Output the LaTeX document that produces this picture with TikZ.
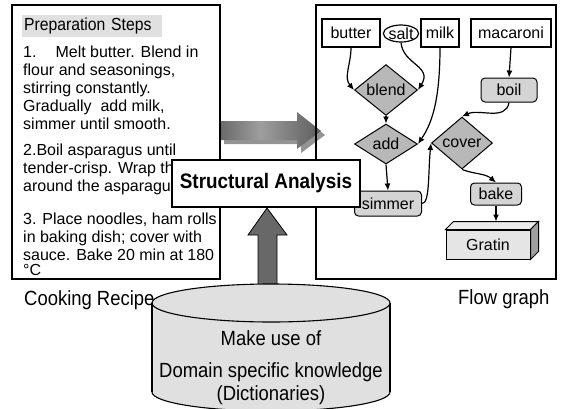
\documentclass[tikz,border=0pt]{standalone}
\usepackage{fontspec}
\setmainfont{Liberation Sans}
\newfontfamily\narrowsf[FakeStretch=0.9]{Liberation Sans}
\usetikzlibrary{shapes.geometric,arrows.meta}
\definecolor{dgray}{RGB}{104,104,104}
\pgfdeclarehorizontalshading{barshade}{100bp}{color(0bp)=(black!85); color(45bp)=(black!38); color(100bp)=(black!85)}
\tikzset{
  frame/.style={draw,line width=1.1pt,minimum width=#1,minimum height=274,inner sep=0pt},
  txt/.style={anchor=north west,inner sep=0pt,align=left,font=\fontsize{16}{18}\selectfont},
  prep/.style={fill=black!12,minimum width=140,minimum height=22,inner xsep=2pt,text width=136,align=left,font=\narrowsf\fontsize{17.5}{20}\selectfont},
  lbl/.style={inner sep=0pt,font=\narrowsf\fontsize{20.5}{24}\selectfont},
  sabox/.style={draw,line width=2.6pt,fill=white,minimum width=188,minimum height=47,font=\narrowsf\bfseries\fontsize{21}{24}\selectfont},
  ing/.style={draw,line width=1.2pt,fill=white,minimum height=28,inner sep=1pt},
  ingo/.style={ellipse,draw,line width=1.2pt,fill=white,minimum width=34,minimum height=17,inner sep=0pt},
  act/.style={diamond,draw,line width=1pt,fill=black!28,inner sep=0pt},
  stp/.style={draw,line width=1pt,rounded corners=4pt,fill=black!17,inner sep=1pt},
  fl/.style={-{Latex[length=7pt,width=6pt]},line width=1.2pt},
}
\begin{document}
\begin{tikzpicture}[x=1pt,y=-1pt,every node/.style={font=\fontsize{16}{19}\selectfont}]
\useasboundingbox (0,0) rectangle (566,408);
% shaded arrow recipe -> graph
\fill[black!42] (224,125) -- (301,125) -- (301,116) -- (325,135) -- (301,153) -- (301,144) -- (224,144) -- cycle;
\shade[shading=barshade] (220,121) -- (297,121) -- (297,112) -- (321,131) -- (297,149) -- (297,140) -- (220,140) -- cycle;
% the two frames
\node[frame=208] (recipe) at (116,142) {};
\node[frame=240] (graph) at (436,142) {};
% recipe text
\node[prep] (title) at (92,26) {Preparation Steps};
\node[txt] (st1) at (23,46) {1.\hspace{19pt}Melt butter. Blend in\\flour and seasonings,\\stirring constantly.\\Gradually\ \ add milk,\\simmer until smooth.};
\node[txt] (st2) at (23,144) {2.Boil asparagus until\\tender-crisp. Wrap th\\around the asparagu};
\node[txt] (st3) at (23,213) {3. Place noodles, ham rolls\\in baking dish; cover with\\sauce. Bake 20 min at 180};
\node[txt] (deg) at (23,264) {°C};
% flow graph
\node[ing,minimum width=58] (butter) at (351,33) {butter};
\node[ingo] (salt) at (401,33.5) {salt};
\node[ing,minimum width=38] (milk) at (440,33) {milk};
\node[ing,minimum width=80] (macaroni) at (511,33) {macaroni};
\node[act,minimum width=63,minimum height=46] (blend) at (386,90) {blend};
\node[act,minimum width=63,minimum height=40] (add) at (386,144) {add};
\node[act,minimum width=61,minimum height=52] (cover) at (462,143) {cover};
\node[stp,minimum width=56,minimum height=24] (boil) at (509,90) {boil};
\node[stp,minimum width=67,minimum height=25] (simmer) at (388,203.5) {simmer};
\node[stp,minimum width=51,minimum height=22] (bake) at (496,194) {bake};
\node[draw,line width=1pt,fill=black!10,minimum width=84,minimum height=29] (gratin) at (488,244.5) {Gratin};
\filldraw[line width=1pt,fill=black!8] (gratin.north west) -- ([shift={(8,-8)}]gratin.north west) -- ([shift={(8,-8)}]gratin.north east) -- (gratin.north east) -- cycle;
\filldraw[line width=1pt,fill=black!38] (gratin.north east) -- ([shift={(8,-8)}]gratin.north east) -- ([shift={(8,-8)}]gratin.south east) -- (gratin.south east) -- cycle;
\coordinate (gtop) at ([shift={(4,-8)}]gratin.north);
\draw[fl] (butter.south) to[out=-90,in=130] (blend.west);
\draw[fl] (salt.south) .. controls +(2,22) and +(15,-24) .. (blend.east);
\draw[fl] (milk.south) .. controls +(0,58) and +(12,-18) .. (add.east);
\draw[fl] (blend.south) -- (add.north);
\draw[fl] (add.south) -- (simmer.north);
\draw[fl] (simmer.east) .. controls +(8,0) and +(-3,30) .. (cover.west);
\draw[fl] (macaroni.south) -- (boil.north);
\draw[fl] (boil.south) to[out=-100,in=25] (cover.north);
\draw[fl] (cover.south) to[out=-20,in=140] (bake.north);
\draw[fl] (bake.south) -- (bake.south |- gtop);
% dictionary cylinder with the up arrow
\filldraw[fill=dgray,line width=0.8pt] (258,295) -- (258,235) -- (248,235) -- (267,208) -- (287,235) -- (277,235) -- (277,295) -- cycle;
\filldraw[fill=black!12,line width=1.1pt] (271,392) ellipse[x radius=119pt,y radius=19pt];
\fill[black!12] (152,303) rectangle (390,392);
\draw[line width=1.1pt] (152,303) -- (152,392) (390,303) -- (390,392);
\filldraw[fill=black!12,line width=1.1pt] (271,303) ellipse[x radius=119pt,y radius=19pt];
\node[lbl,anchor=base] (dk1) at (271,345) {Make use of};
\node[lbl,anchor=base] (dk2) at (271,377) {Domain specific knowledge};
\node[lbl,anchor=base] (dk3) at (271,400) {(Dictionaries)};
% captions
\node[lbl,anchor=base west] (cook) at (24,305) {Cooking Recipe};
\node[lbl,anchor=base west] (flowlbl) at (458,304) {Flow graph};
% analysis box on top
\node[sabox] (sa) at (266,183.5) {Structural Analysis};
\end{tikzpicture}
\end{document}
